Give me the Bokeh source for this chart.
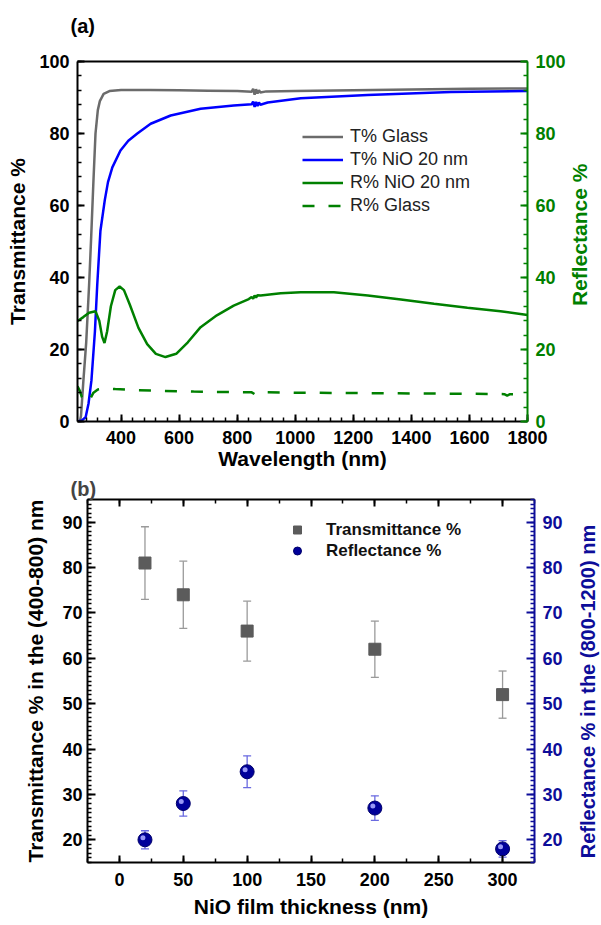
import math
from bokeh.plotting import figure
from bokeh.models import (ColumnDataSource, Range1d, LinearAxis, SingleIntervalTicker,
                          Legend, LegendItem, Whisker, TeeHead, Label)
from bokeh.layouts import column, row
from bokeh.embed import file_html
from bokeh.resources import INLINE
from bokeh.transform import dodge

FONT = "Liberation Sans"

# ---------------- panel (a) data ----------------
wl_glass_T = [250, 258, 262, 270, 280, 290, 297, 305, 312, 320, 327, 340, 360, 400, 500, 600, 700, 800,
              850, 855, 860, 865, 870, 875, 880, 900, 1000, 1200, 1400, 1600, 1800]
T_glass = [0, 0, 1.5, 11, 22, 38, 51, 67, 80, 86.5, 89, 91, 91.8, 92.1, 92.1, 92.0, 91.9, 91.8,
           91.6, 92.4, 90.8, 92.3, 91.1, 92.0, 91.4, 91.7, 91.8, 92.0, 92.2, 92.4, 92.5]

wl_nio_T = [250, 265, 278, 288, 298, 310, 318, 329, 344, 355, 370, 398, 425, 456, 502, 571, 674, 788,
            850, 855, 860, 865, 870, 875, 880, 905, 1019, 1249, 1536, 1800]
T_nio = [0, 0.3, 1.2, 5, 11.4, 25, 38, 53, 61.5, 66.5, 70.6, 75.3, 78, 80, 82.7, 85, 86.9, 87.8,
         88.1, 88.9, 87.4, 88.8, 87.6, 88.6, 88.0, 88.6, 89.8, 90.7, 91.5, 91.8]

wl_nio_R = [250, 270, 290, 312, 325, 335, 343, 352, 365, 380, 395, 410, 430, 460, 490, 520, 553, 590,
            630, 674, 730, 788, 840, 850, 855, 860, 865, 870, 881, 950, 1019, 1133, 1250, 1364, 1478,
            1593, 1707, 1800]
R_nio = [27.9, 29, 30.2, 30.6, 28, 23.5, 21.8, 25, 32, 36.5, 37.5, 36.5, 32.5, 26, 21.5, 18.8, 17.9,
         18.8, 22, 26.2, 29.5, 32.2, 34, 34.6, 34.1, 35, 34.4, 35.1, 35, 35.6, 35.9, 35.9, 35, 33.9,
         32.7, 31.6, 30.6, 29.6]

wl_glass_R = [250, 258, 265, 275, 285, 295, 305, 320, 345, 380, 450, 550, 650, 750, 850, 860, 870,
              1000, 1200, 1400, 1600, 1720, 1730, 1740, 1800]
R_glass = [9.8, 8.5, 6.8, 5.6, 5.3, 6.5, 8.0, 8.9, 9.2, 9.0, 8.7, 8.5, 8.3, 8.2, 8.1, 7.6, 8.2,
           8.0, 7.9, 7.8, 7.7, 7.6, 7.2, 7.6, 7.6]

# ---------------- panel (b) data ----------------
thickness = [20, 50, 100, 200, 300]
trans = [81, 74, 66, 62, 52]
trans_err = [8, 7.4, 6.6, 6.2, 5.2]
refl = [20, 28, 35, 27, 18]
refl_err = [2, 2.8, 3.5, 2.7, 1.8]

GRAY = "#6b6b6b"
BLUE = "#0000ff"
GREEN = "#008000"
NAVY = "#0d0d99"


def style_axis(ax, color, ticker, major_in=7, minor_in=4, label_standoff=8, axis_standoff=6,
               show_labels=True):
    ax.ticker = ticker
    ax.axis_line_color = color
    ax.axis_line_width = 2
    ax.major_tick_line_color = color
    ax.minor_tick_line_color = color
    ax.major_tick_line_width = 2
    ax.minor_tick_line_width = 1.5
    ax.major_tick_in = major_in
    ax.major_tick_out = 0
    ax.minor_tick_in = minor_in
    ax.minor_tick_out = 0
    ax.major_label_text_font = FONT
    ax.major_label_text_font_style = "bold"
    if show_labels:
        ax.major_label_text_font_size = "18px"
        ax.major_label_text_color = color
    else:
        ax.major_label_text_font_size = "1px"
        ax.major_label_text_color = None
    ax.major_label_standoff = label_standoff
    ax.axis_label_text_font = FONT
    ax.axis_label_text_font_style = "bold"
    ax.axis_label_text_font_size = "21px"
    ax.axis_label_text_color = color
    ax.axis_label_standoff = axis_standoff


def text_figure(w, h, x, y, text, color="black", size="21px", angle=0.0, align="left"):
    """A small axis-less canvas that only carries one text (kept inside its own frame)."""
    f = figure(width=w, height=h, x_range=Range1d(0, w), y_range=Range1d(0, h),
               output_backend="svg", toolbar_location=None,
               x_axis_location=None, y_axis_location=None,
               min_border_left=0, min_border_right=0, min_border_top=0, min_border_bottom=0)
    f.outline_line_color = None
    f.grid.visible = False
    f.add_layout(Label(x=x, y=y, text=text, angle=angle, text_align=align, text_baseline="middle",
                       text_font=FONT, text_font_size=size, text_font_style="bold",
                       text_color=color))
    return f


# ================= Panel (a) =================
tag_a = text_figure(593, 40, 70, 15, "(a)", size="20px")

p1 = figure(frame_width=450, frame_height=360, x_range=Range1d(250, 1800), y_range=Range1d(0, 100),
            output_backend="svg", toolbar_location=None,
            min_border_left=77, min_border_right=39, min_border_top=21, min_border_bottom=53)
p1.extra_y_ranges = {"r": Range1d(0, 100)}
p1.outline_line_color = None
p1.xgrid.visible = False
p1.ygrid.visible = False

style_axis(p1.xaxis[0], "black", SingleIntervalTicker(interval=200, num_minor_ticks=5),
           label_standoff=9, axis_standoff=0)
p1.xaxis[0].axis_label = "Wavelength (nm)"
style_axis(p1.yaxis[0], "black", SingleIntervalTicker(interval=20, num_minor_ticks=5),
           label_standoff=8, axis_standoff=7)
p1.yaxis[0].axis_label = "Transmittance %"

ax_r1 = LinearAxis(y_range_name="r")
style_axis(ax_r1, GREEN, SingleIntervalTicker(interval=20, num_minor_ticks=5),
           label_standoff=8, axis_standoff=0)
p1.add_layout(ax_r1, "right")

ax_t1 = LinearAxis()
style_axis(ax_t1, "black", SingleIntervalTicker(interval=200, num_minor_ticks=5),
           major_in=0, minor_in=0, label_standoff=0, axis_standoff=0, show_labels=False)
p1.add_layout(ax_t1, "above")

l_tg = p1.line(wl_glass_T, T_glass, line_color=GRAY, line_width=2.5)
l_tn = p1.line(wl_nio_T, T_nio, line_color=BLUE, line_width=2.5)
l_rn = p1.line(wl_nio_R, R_nio, line_color=GREEN, line_width=2.5, y_range_name="r")
l_rg = p1.line(wl_glass_R, R_glass, line_color=GREEN, line_width=2.5, line_dash="12 14",
               y_range_name="r")

leg1 = Legend(items=[LegendItem(label="T% Glass", renderers=[l_tg]),
                     LegendItem(label="T% NiO 20 nm", renderers=[l_tn]),
                     LegendItem(label="R% NiO 20 nm", renderers=[l_rn]),
                     LegendItem(label="R% Glass", renderers=[l_rg])],
              location=(225, 204))
leg1.label_text_font = FONT
leg1.label_text_font_size = "18px"
leg1.label_text_color = "#222222"
leg1.glyph_width = 41
leg1.glyph_height = 23
leg1.label_height = 23
leg1.label_standoff = 7
leg1.spacing = 0
leg1.padding = 0
leg1.margin = 0
leg1.border_line_alpha = 0
leg1.background_fill_alpha = 0
p1.add_layout(leg1)

# right-hand axis title of panel (a), reading bottom-to-top
rl1 = text_figure(24, 434, 11, 225, "Reflectance %", color=GREEN, size="21px",
                  angle=math.pi / 2, align="center")

# ================= Panel (b) =================
p2 = figure(frame_width=447, frame_height=363, x_range=Range1d(-25, 325), y_range=Range1d(15, 95),
            output_backend="svg", toolbar_location=None,
            min_border_left=87, min_border_right=29, min_border_top=25, min_border_bottom=60,
            title="(b)")
p2.extra_y_ranges = {"r": Range1d(15, 95)}
p2.outline_line_color = None
p2.xgrid.visible = False
p2.ygrid.visible = False
p2.title.text_font = FONT
p2.title.text_font_size = "20px"
p2.title.text_font_style = "bold"
p2.title.align = "left"
p2.title.offset = -17
p2.title.standoff = 0

style_axis(p2.xaxis[0], "black", SingleIntervalTicker(interval=50, num_minor_ticks=2),
           major_in=7, minor_in=4, label_standoff=10, axis_standoff=6)
p2.xaxis[0].axis_label = "NiO film thickness (nm)"
style_axis(p2.yaxis[0], "black", SingleIntervalTicker(interval=10, num_minor_ticks=10),
           major_in=8, minor_in=4, label_standoff=5, axis_standoff=12)
p2.yaxis[0].axis_label = "Transmittance % in the (400-800) nm"

ax_r2 = LinearAxis(y_range_name="r")
style_axis(ax_r2, NAVY, SingleIntervalTicker(interval=10, num_minor_ticks=10),
           major_in=8, minor_in=4, label_standoff=8, axis_standoff=0)
p2.add_layout(ax_r2, "right")

ax_t2 = LinearAxis()
style_axis(ax_t2, "black", SingleIntervalTicker(interval=50, num_minor_ticks=2),
           major_in=7, minor_in=4, label_standoff=0, axis_standoff=0, show_labels=False)
p2.add_layout(ax_t2, "above")

src = ColumnDataSource(dict(
    thick=thickness, trans=trans, refl=refl,
    t_up=[v + e for v, e in zip(trans, trans_err)], t_lo=[v - e for v, e in zip(trans, trans_err)],
    r_up=[v + e for v, e in zip(refl, refl_err)], r_lo=[v - e for v, e in zip(refl, refl_err)],
))

w_t = Whisker(source=src, base="thick", upper="t_up", lower="t_lo", line_color="#9a9a9a",
              line_width=1.3, level="underlay",
              upper_head=TeeHead(size=8, line_color="#9a9a9a", line_width=1.3),
              lower_head=TeeHead(size=8, line_color="#9a9a9a", line_width=1.3))
p2.add_layout(w_t)
w_r = Whisker(source=src, base="thick", upper="r_up", lower="r_lo", line_color="#6a6ae0",
              line_width=1.3, level="underlay", y_range_name="r",
              upper_head=TeeHead(size=8, line_color="#6a6ae0", line_width=1.3),
              lower_head=TeeHead(size=8, line_color="#6a6ae0", line_width=1.3))
p2.add_layout(w_r)

s_t = p2.scatter("thick", "trans", source=src, marker="square", size=12,
                 fill_color="#5b5b5b", line_color="#5b5b5b")
s_r = p2.scatter("thick", "refl", source=src, marker="circle", size=14,
                 fill_color="#00009a", line_color="#00006a", y_range_name="r")
p2.scatter(dodge("thick", -1.6), dodge("refl", 0.45), source=src, marker="circle", size=5,
           fill_color="#a8a8ff", line_color=None, fill_alpha=0.9, y_range_name="r")

leg2 = Legend(items=[LegendItem(label="Transmittance %", renderers=[s_t]),
                     LegendItem(label="Reflectance %", renderers=[s_r])],
              location=(200, 301))
leg2.label_text_font = FONT
leg2.label_text_font_size = "17px"
leg2.label_text_font_style = "bold"
leg2.label_text_color = "#111111"
leg2.glyph_width = 20
leg2.glyph_height = 21
leg2.label_height = 21
leg2.label_standoff = 19
leg2.spacing = 0
leg2.padding = 0
leg2.margin = 0
leg2.border_line_alpha = 0
leg2.background_fill_alpha = 0
p2.add_layout(leg2)

rl2 = text_figure(36, 448, 22, 211, "Reflectance % in the (800-1200) nm", color=NAVY, size="20px",
                  angle=math.pi / 2, align="center")

layout = column(tag_a, row(p1, rl1, spacing=0), row(p2, rl2, spacing=0), spacing=0)
open("out.html", "w").write(file_html(layout, INLINE))
